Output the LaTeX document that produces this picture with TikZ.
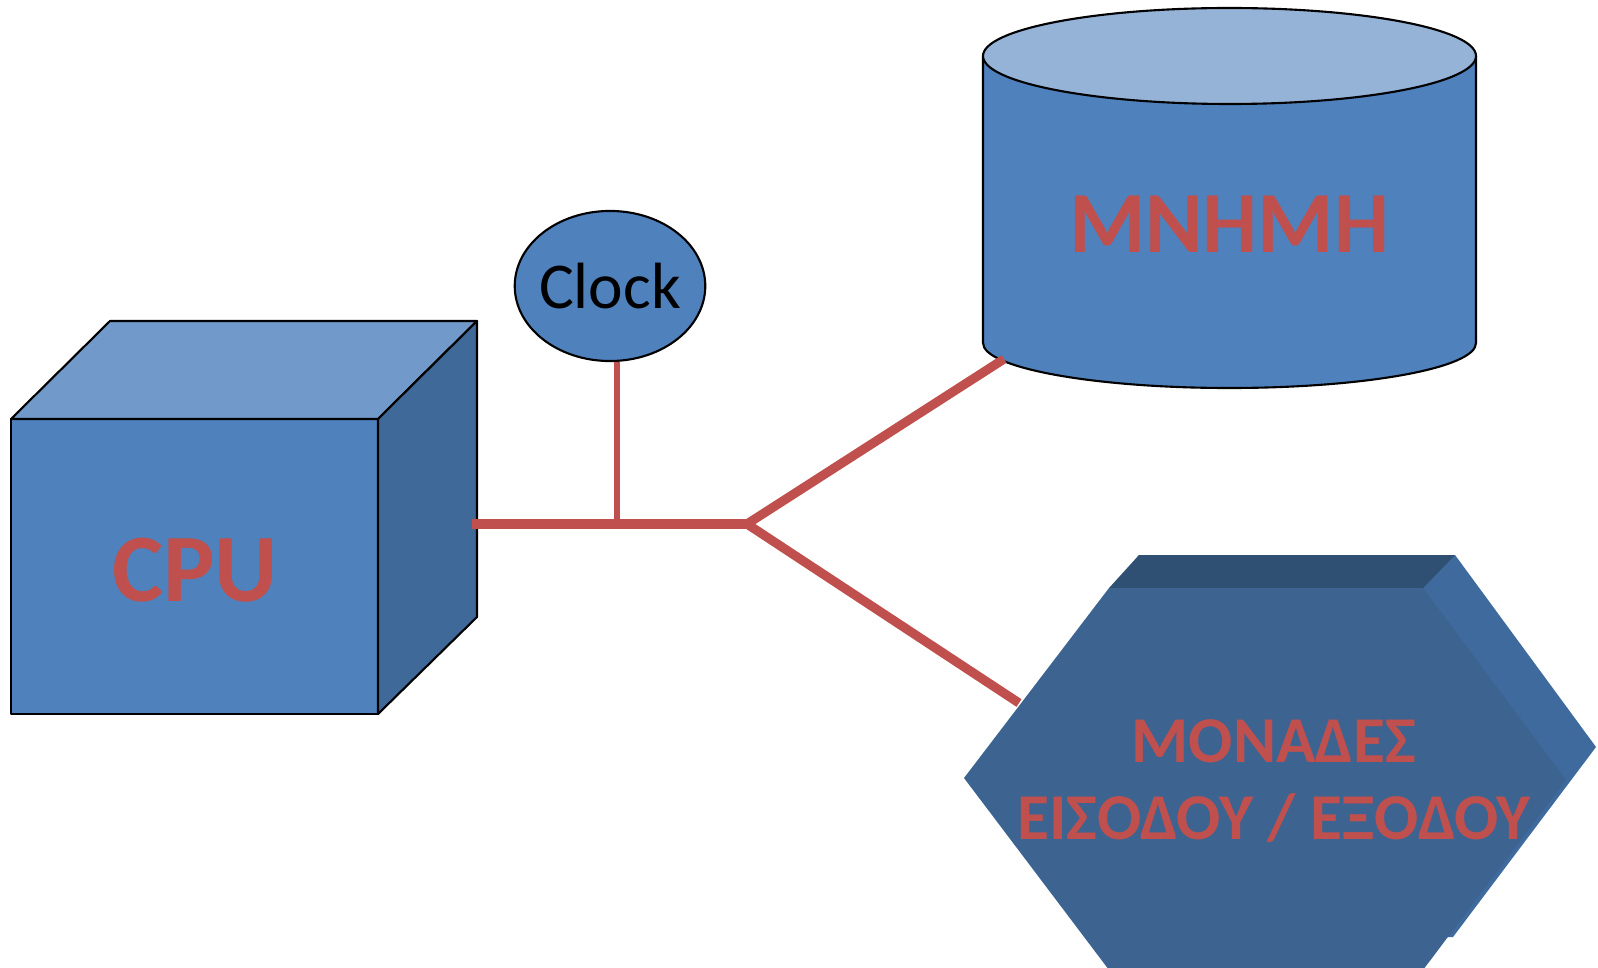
\documentclass[tikz,border=0pt]{standalone}
\usepackage{fontspec}
\setmainfont{Carlito}
\usetikzlibrary{shapes.geometric}
\definecolor{boxblue}{HTML}{4F81BD}
\definecolor{boxtop}{HTML}{7199CA}
\definecolor{boxside}{HTML}{3E6999}
\definecolor{drumtop}{HTML}{95B3D7}
\definecolor{hexfront}{HTML}{3D6390}
\definecolor{hextop}{HTML}{2F4F73}
\definecolor{hexside}{HTML}{3E6A9D}
\definecolor{busred}{HTML}{C0504D}

\begin{document}
\begin{tikzpicture}[x=0.01cm, y=-0.01cm]
        \tikzstyle{outline}=[draw=black, line width=0.6pt, line join=round]
        \tikzstyle{label}=[text=busred, inner sep=0pt]
        \tikzstyle{bus}=[draw=busred, line width=2.8pt]
        \useasboundingbox (0,0) rectangle (1598,967);
        \clip (0,0) rectangle (1598,967);
        % CPU cube
        \filldraw[outline, fill=boxblue] (11,419) rectangle (378,714);
        \filldraw[outline, fill=boxtop] (11,419) -- (110,321) -- (477,321) -- (378,419) -- cycle;
        \filldraw[outline, fill=boxside] (378,419) -- (477,321) -- (477,617) -- (378,714) -- cycle;
        \node[label, anchor=base, font=\bfseries\fontsize{27.5}{33}\selectfont] (cpu) at (195,601) {CPU};
        % memory drum
        \filldraw[outline, fill=boxblue] (983,56) -- (983,343) arc[start angle=180, end angle=0, x radius=246.5, y radius=45] -- (1476,56) -- cycle;
        \filldraw[outline, fill=drumtop] (1229.5,56) ellipse [x radius=246.5, y radius=48];
        \node[label, anchor=base, font=\bfseries\fontsize{24.8}{30}\selectfont] (mem) at (1229,253) {ΜΝΗΜΗ};
        % I/O hexagon
        \fill[hexside] (1139,555) -- (1455,555) -- (1596,747) -- (1453,937) -- (1139,937) -- (994,745) -- cycle;
        \fill[hextop] (1109,588) -- (1139,555) -- (1455,555) -- (1423,588) -- cycle;
        \fill[hexfront] (1109,588) -- (1423,588) -- (1566,780) -- (1423,970) -- (1109,970) -- (964,778) -- cycle;
        \node[label, align=center, font=\bfseries\fontsize{18.6}{22}\selectfont] (io) at (1274,781) {ΜΟΝΑΔΕΣ\\ΕΙΣΟΔΟΥ / ΕΞΟΔΟΥ};
        % clock
        \node[ellipse, outline, fill=boxblue, inner xsep=-1pt, inner ysep=0pt, minimum width=1.84cm, minimum height=1.5cm, font=\fontsize{18.6}{22}\selectfont] (clock) at (610,286) {Clock};
        % bus lines
        \coordinate (cpuport) at (472,524);
        \coordinate (tap) at (617,524);
        \coordinate (hub) at (747,524);
        \coordinate (memport) at (1004,359);
        \coordinate (ioport) at (1019,703);
        \draw[bus] (cpuport) -- (hub);
        \draw[bus, line width=1.9pt] (tap) -- (tap |- clock.south);
        \draw[bus, line width=2.6pt] (memport) -- (hub) -- (ioport);
\end{tikzpicture}
\end{document}
